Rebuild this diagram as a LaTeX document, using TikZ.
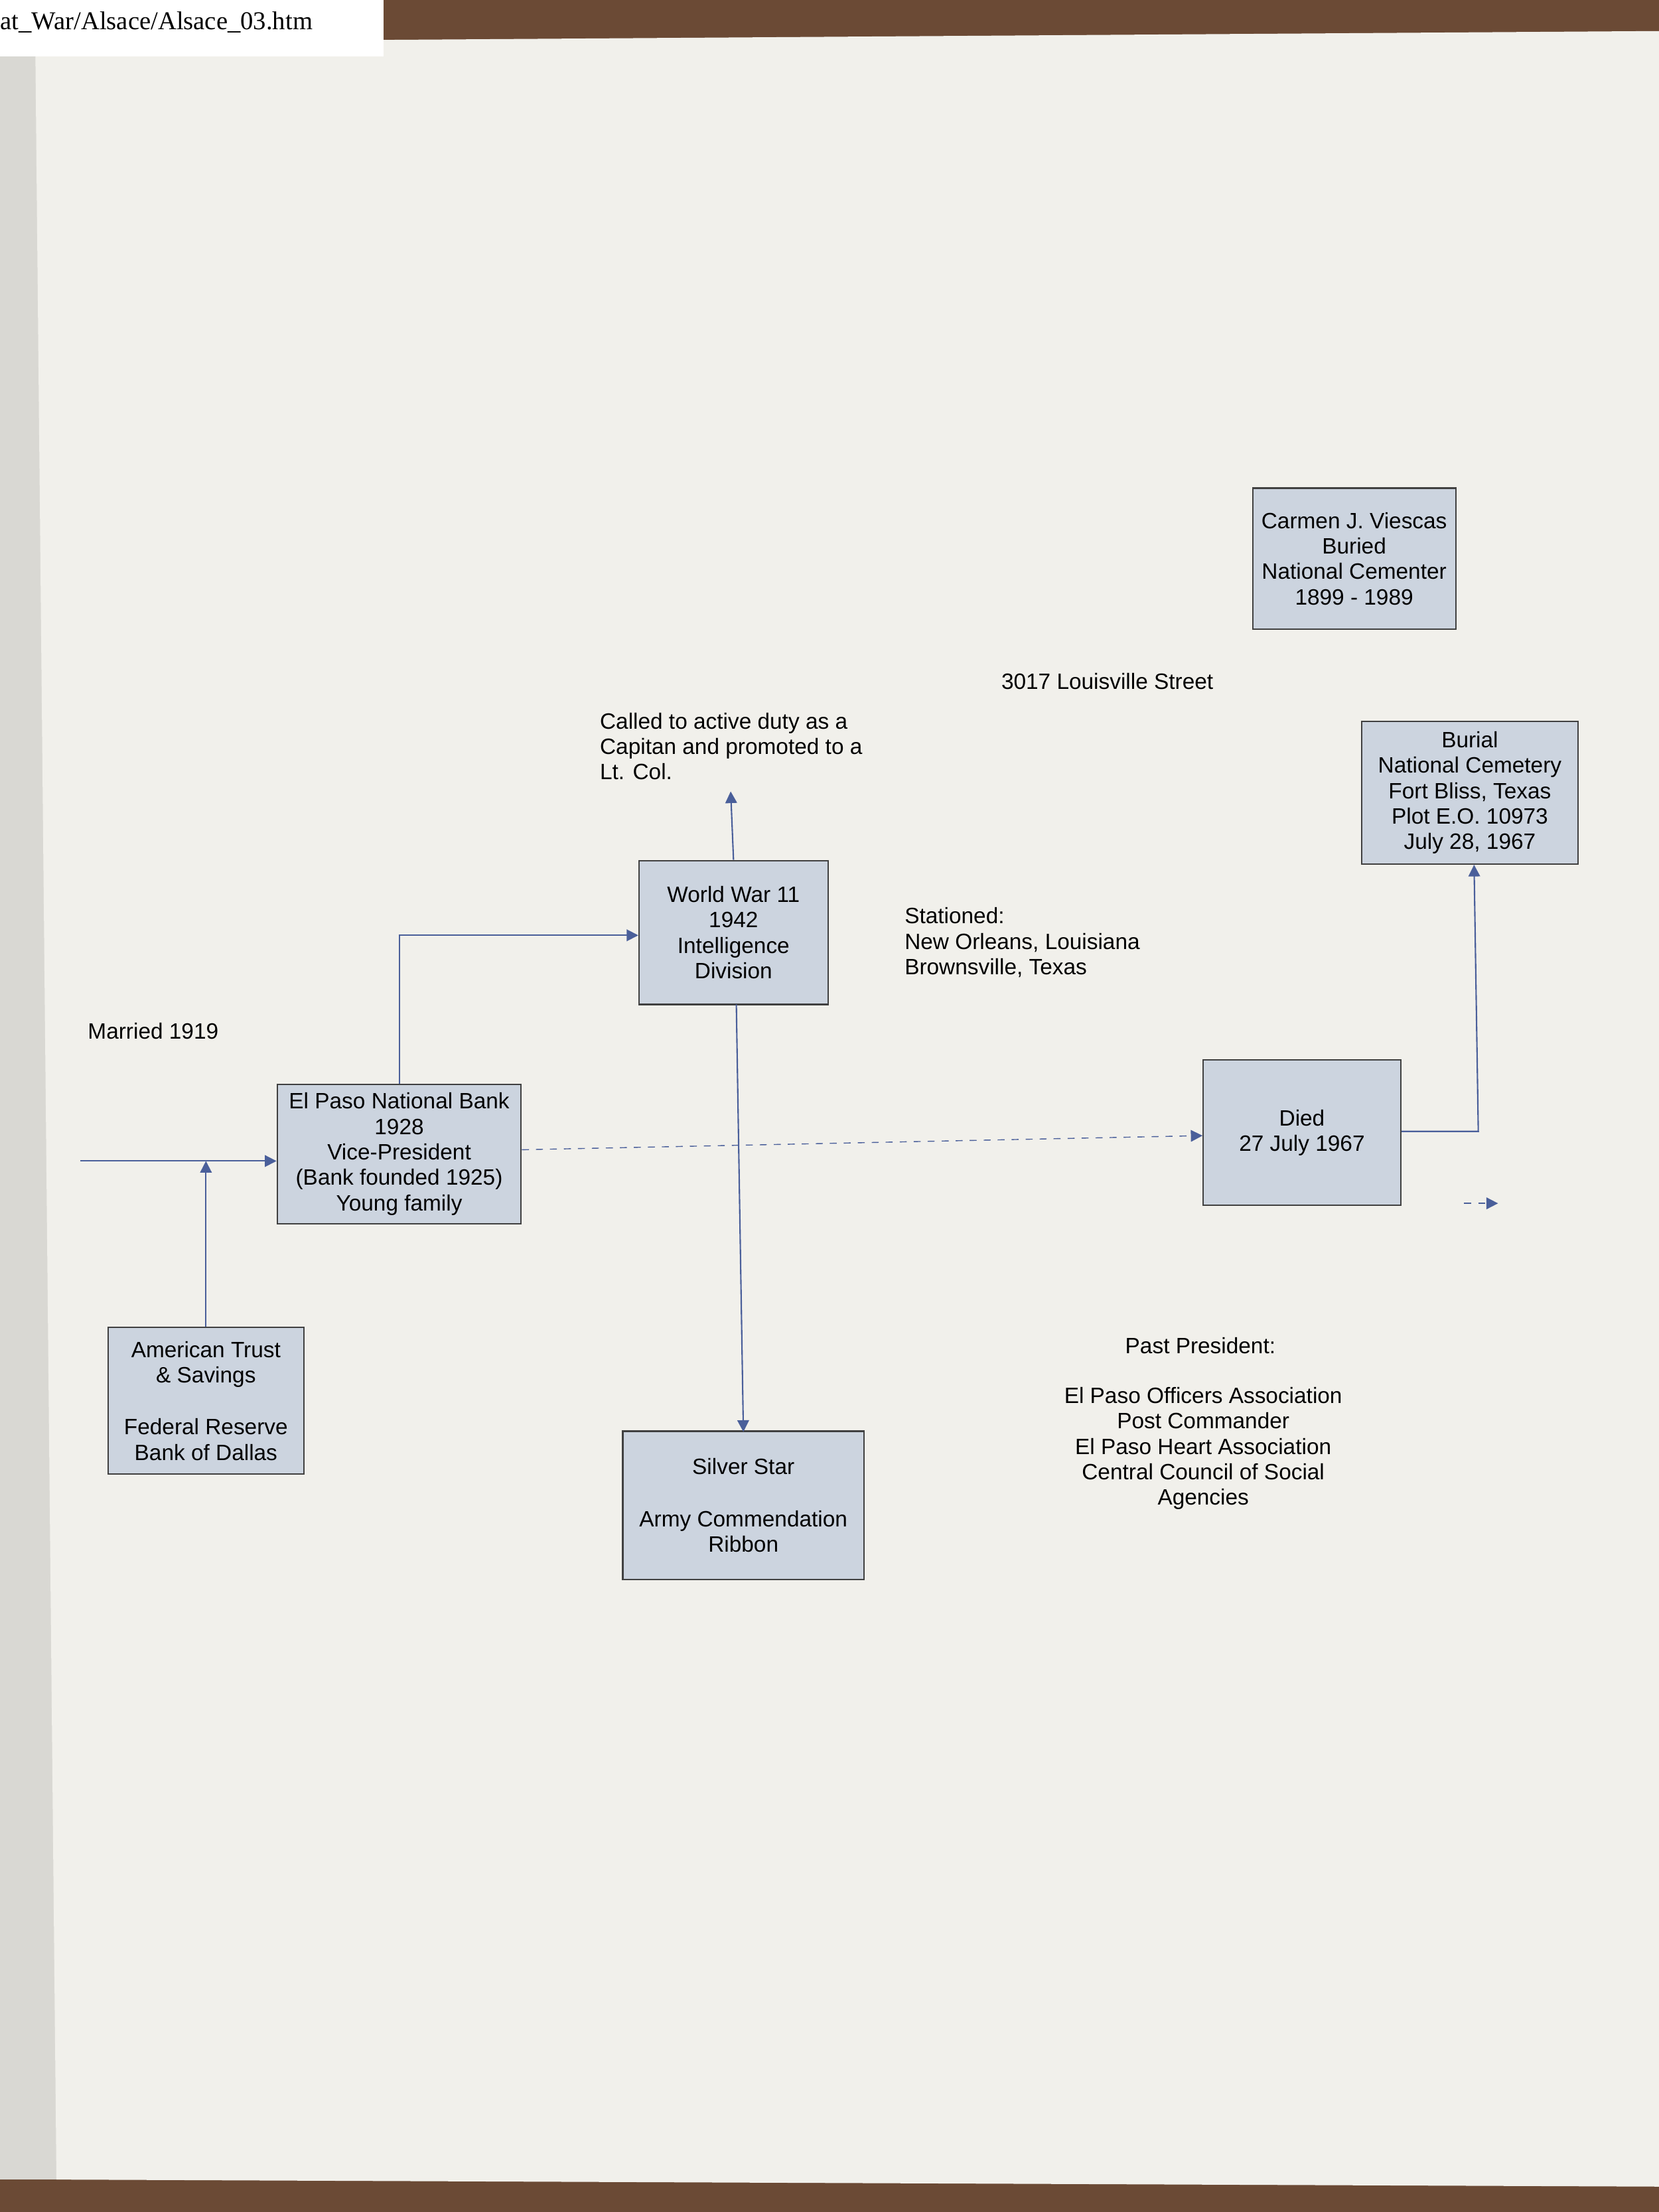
\documentclass[tikz,border=0pt]{standalone}
\usepackage{fontspec}
\setmainfont{Liberation Sans}
\newfontfamily\timesf{Liberation Serif}
\usetikzlibrary{arrows.meta}
\begin{document}
\begin{tikzpicture}[x=0.02126cm,y=-0.02126cm,
  box/.style={draw=black!75,fill=boxfill,line width=0.6pt,minimum width=#1,inner sep=2pt,align=center,font=\fontsize{9.5}{10.9}\selectfont},
  txt/.style={inner sep=0pt,font=\fontsize{9.5}{10.9}\selectfont},
  conn/.style={draw=linec,line width=0.6pt,-{Triangle[length=5pt,width=5pt]}}]
\definecolor{boxfill}{HTML}{CCD4DF}
\definecolor{linec}{HTML}{4A5F9A}
\definecolor{paper}{HTML}{F1F0EB}
\definecolor{table}{HTML}{6B4A35}
\useasboundingbox (0,0) rectangle (1176,1568);
\fill[table] (0,0) rectangle (1176,1568);
\fill[paper!90!black] (0,40) rectangle (40,1545);
\fill[paper] (25,30) -- (1176,22) -- (1176,1550) -- (40,1545) -- cycle;
\fill[white] (0,0) rectangle (272,40);
\node[anchor=west,inner sep=0pt,font=\timesf\fontsize{11}{12}\selectfont] (hdr) at (0,16) {at\_War/Alsace/Alsace\_03.htm};
% boxes
\node[box=144*0.02126cm,minimum height=100*0.02126cm] (carmen) at (960,396) {Carmen J. Viescas\\Buried\\National Cementer\\1899 - 1989};
\node[box=153*0.02126cm,minimum height=101*0.02126cm] (burial) at (1042,562) {Burial\\National Cemetery\\Fort Bliss, Texas\\Plot E.O. 10973\\July 28, 1967};
\node[box=134*0.02126cm,minimum height=102*0.02126cm] (ww) at (520,661) {World War 11\\1942\\Intelligence\\Division};
\node[box=173*0.02126cm,minimum height=99*0.02126cm] (bank) at (283,818) {El Paso National Bank\\1928\\Vice-President\\(Bank founded 1925)\\Young family};
\node[box=140*0.02126cm,minimum height=103*0.02126cm] (died) at (923,803) {Died\\27 July 1967};
\node[box=139*0.02126cm,minimum height=104*0.02126cm] (trust) at (146,993) {American Trust\\\& Savings\\[1.2em]Federal Reserve\\Bank of Dallas};
\node[box=171*0.02126cm,minimum height=105*0.02126cm] (silver) at (527,1067) {Silver Star\\[1.2em]Army Commendation\\Ribbon};
% texts
\node[txt] (street) at (785,483) {3017 Louisville Street};
\node[txt,anchor=north west,align=left] (called) at (425,505) {Called to active duty as a\\Capitan and promoted to a\\Lt. Col.};
\node[txt,anchor=north west,align=left] (stat) at (641,643) {Stationed:\\New Orleans, Louisiana\\Brownsville, Texas};
\node[txt,anchor=west] (married) at (62,731) {Married 1919};
\node[txt] (past) at (851,954) {Past President:};
\node[txt,anchor=north,align=center] (assoc) at (853,983) {El Paso Officers Association\\Post Commander\\El Paso Heart Association\\Central Council of Social\\Agencies};
% connectors
\coordinate (lstart) at (57,823);
\coordinate (calltip) at (518,561);
\coordinate (sa) at (1038,853);
\coordinate (sb) at (1062,853);
\draw[conn] (lstart) -- (bank.west |- lstart);
\draw[conn] (trust.north) -- (146,823);
\draw[conn] (bank.north) -- (283,663) -- (ww.west |- 0,663);
\draw[conn] (ww.north) -- (calltip);
\draw[conn] (522,712) -- (527,1015);
\draw[conn,dashed,line width=0.4pt] (bank.east |- 0,815) -- (died.west |- 0,805);
\draw[conn] (died.east |- 0,802) -- (1048,802) -- (1045,613);
\draw[conn,dashed] (sa) -- (sb);
\end{tikzpicture}
\end{document}
